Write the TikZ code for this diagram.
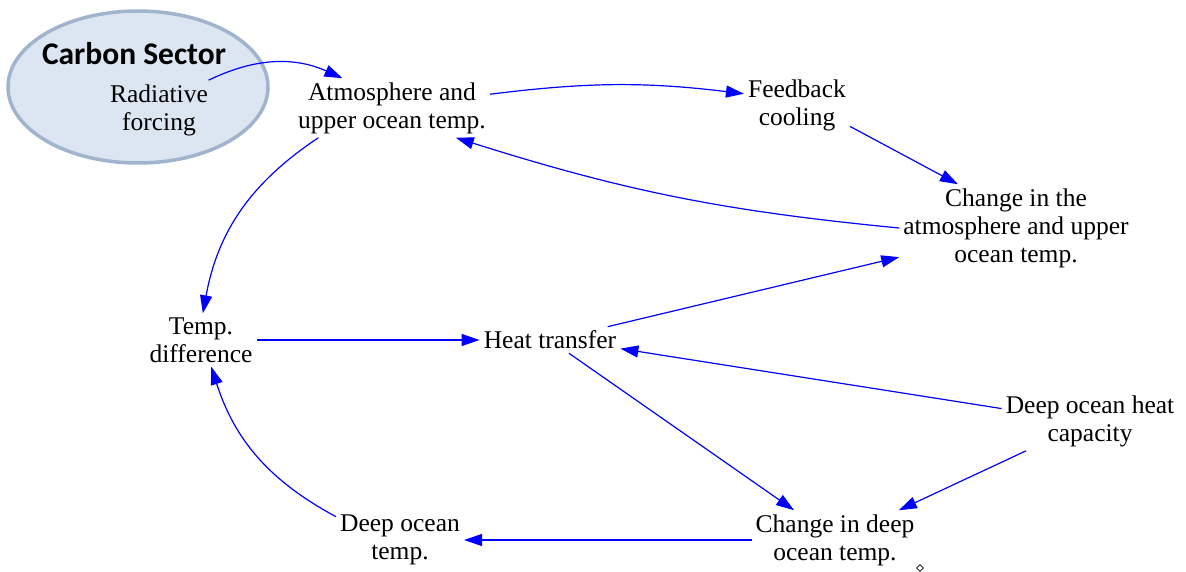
\documentclass[tikz,border=0pt]{standalone}
\usepackage{fontspec}
\setmainfont{Liberation Serif}
\newfontfamily\timesfont{Liberation Serif}
\newfontfamily\carlito{Carlito}
\usetikzlibrary{arrows.meta,shapes.geometric}
\definecolor{sectorfill}{RGB}{220,230,242}
\definecolor{sectorline}{RGB}{160,180,205}
\begin{document}
\begin{tikzpicture}[x=1pt,y=-1pt,
  var/.style={align=center, inner sep=4pt, font=\timesfont\fontsize{25.5}{28}\selectfont},
  link/.style={draw=blue, line width=1.2pt, -{Triangle[length=18pt,width=12pt]}}]
\useasboundingbox (0,0) rectangle (1186,572);
% sector ellipse
\node[ellipse, draw=sectorline, fill=sectorfill, line width=3.5pt,
      minimum width=260pt, minimum height=152pt, inner sep=0pt] (sector) at (138,87) {};
\node[font=\carlito\bfseries\fontsize{31.5}{34}\selectfont, anchor=base] (sectortitle) at (134,65) {Carbon Sector};
% variables
\node[var] (rad) at (159,110) {Radiative\\forcing};
\node[var] (atm) at (392,108) {Atmosphere and\\upper ocean temp.};
\node[var] (fb)  at (797,105) {Feedback\\cooling};
\node[var] (ch)  at (1016,228) {Change in the\\atmosphere and upper\\ocean temp.};
\node[var] (td)  at (201,340) {Temp.\\difference};
\node[var] (heat) at (550,340) {Heat transfer};
\node[var] (dhc) at (1090,421) {Deep ocean heat\\capacity};
\node[var] (cd)  at (835,540) {Change in deep\\ocean temp.};
\node[var] (dot) at (400,540) {Deep ocean\\temp.};
% small marker
\node[diamond, draw=black, line width=0.8pt, minimum size=7pt, inner sep=0pt] (marker) at (920,568) {};
% links
\draw[link] (rad.31) to[bend left=25] (atm.149);
\draw[link] (atm.8) to[bend left=7] (fb.168);
\draw[link] (fb.338) -- (ch.143);
\draw[link] (ch.west) to[bend left=6] (atm.335);
\draw[link] (atm.202) to[bend right=23] (td.86);
\draw[link] (td.east) -- (heat.west);
\draw[link] (heat.13) -- (ch.194);
\draw[link] (dhc.172) -- (heat.353);
\draw[link] (heat.325) -- (cd.144);
\draw[link] (dhc.205) -- (cd.25);
\draw[link] (cd.west) -- (dot.east);
\draw[link] (dot.160) to[bend left=22] (td.291);
\end{tikzpicture}
\end{document}
